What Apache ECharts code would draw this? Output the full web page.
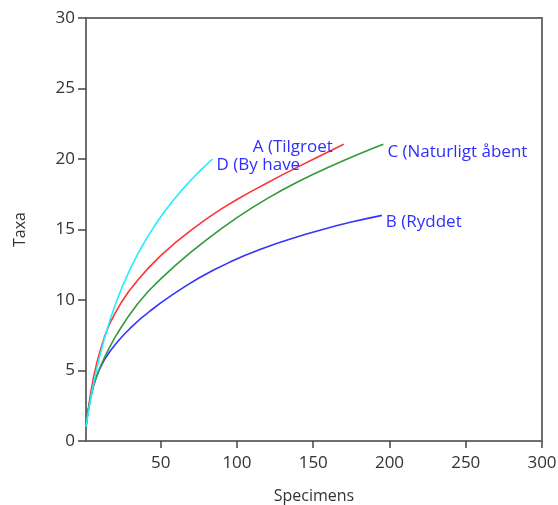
<!DOCTYPE html>
<html>
<head>
<meta charset="utf-8">
<script src="https://cdn.jsdelivr.net/npm/echarts@6/dist/echarts.min.js"></script>
<style>
  html, body { margin: 0; padding: 0; background: #fff; }
  #chart { width: 558px; height: 505px; }
</style>
</head>
<body>
<div id="chart"></div>
<script>
// Rarefaction curves: expected number of taxa vs. number of specimens
const seriesNames = ['A (Tilgroet', 'B (Ryddet', 'C (Naturligt åbent', 'D (By have'];

const xA = [1, 2, 4, 6, 8, 10, 13, 16, 20, 24, 29, 35, 42, 50, 60, 70, 80, 90, 100, 110, 120, 130, 140, 150, 160, 170];
const yA = [1.0, 1.9, 3.35, 4.55, 5.5, 6.3, 7.35, 8.2, 9.05, 9.8, 10.6, 11.42, 12.28, 13.15, 14.1, 14.95, 15.75, 16.48, 17.13, 17.74, 18.32, 18.89, 19.44, 19.98, 20.52, 21.05];

const xB = [1, 2, 4, 6, 8, 10, 13, 17, 21, 25, 30, 36, 43, 50, 58, 66, 75, 85, 95, 105, 115, 125, 135, 145, 155, 165, 175, 185, 195];
const yB = [1.0, 1.88, 3.05, 3.95, 4.6, 5.12, 5.75, 6.4, 6.95, 7.45, 8.0, 8.6, 9.22, 9.8, 10.4, 10.97, 11.56, 12.14, 12.67, 13.15, 13.58, 13.97, 14.33, 14.66, 14.97, 15.26, 15.53, 15.77, 16.0];

const xC = [1, 2, 4, 6, 8, 10, 13, 16, 20, 24, 29, 35, 42, 50, 60, 70, 80, 90, 100, 110, 120, 130, 140, 150, 160, 170, 180, 190, 196];
const yC = [1.0, 1.9, 3.1, 3.95, 4.6, 5.15, 5.9, 6.55, 7.35, 8.05, 8.87, 9.75, 10.64, 11.5, 12.49, 13.41, 14.27, 15.08, 15.84, 16.55, 17.21, 17.82, 18.39, 18.92, 19.42, 19.9, 20.36, 20.8, 21.05];

const xD = [1, 2, 4, 6, 8, 10, 13, 17, 21, 25, 30, 35, 40, 46, 52, 58, 64, 70, 76, 84];
const yD = [1.0, 1.7, 3.0, 4.1, 5.1, 6.0, 7.24, 8.67, 9.91, 11.0, 12.21, 13.28, 14.23, 15.27, 16.2, 17.04, 17.81, 18.53, 19.19, 20.0];

const xTicks = [50, 100, 150, 200, 250, 300];
const lineColors = ['#ff3434', '#3434ff', '#33993a', '#22eeff'];
const labelColor = '#2f2fff';

function pairs(xs, ys) { return xs.map((x, i) => [x, ys[i]]); }

const curves = [pairs(xA, yA), pairs(xB, yB), pairs(xC, yC), pairs(xD, yD)];
const labelOffsets = [[-95, 3], [0, 7], [0, 8], [0, 6]];

const chart = echarts.init(document.getElementById('chart'), null, { renderer: 'canvas' });
chart.setOption({
  animation: false,
  backgroundColor: '#ffffff',
  textStyle: { fontFamily: 'Open Sans' },
  grid: {
    left: 86, right: 16, top: 18, bottom: 64,
    outerBoundsMode: 'none',
    containLabel: false,
    show: true, borderColor: '#6e6e6e', borderWidth: 2, backgroundColor: 'transparent'
  },
  xAxis: {
    type: 'value', min: 1, max: 300,
    name: 'Specimens', nameLocation: 'middle', nameGap: 47,
    nameTextStyle: { fontSize: 16, color: '#333', fontFamily: 'Open Sans' },
    axisLine: { show: true, lineStyle: { color: '#6e6e6e', width: 2 } },
    axisTick: { show: true, customValues: xTicks, length: 7, lineStyle: { color: '#444', width: 1.5 } },
    axisLabel: { customValues: xTicks, margin: 14, fontSize: 17, color: '#333', fontFamily: 'Open Sans' },
    splitLine: { show: false }
  },
  yAxis: {
    type: 'value', min: 0, max: 30, interval: 5,
    name: 'Taxa', nameLocation: 'middle', nameGap: 58, nameRotate: 90,
    nameTextStyle: { fontSize: 16, color: '#333', fontFamily: 'Open Sans' },
    axisLine: { show: true, lineStyle: { color: '#6e6e6e', width: 2 } },
    axisTick: { show: true, length: 8, lineStyle: { color: '#444', width: 1.5 } },
    axisLabel: { margin: 11, fontSize: 17, color: '#333', fontFamily: 'Open Sans' },
    splitLine: { show: false }
  },
  series: curves.map((data, i) => ({
    name: seriesNames[i],
    type: 'line',
    data: data,
    showSymbol: false,
    symbol: 'none',
    smooth: false,
    lineStyle: { color: lineColors[i], width: 1.6 },
    itemStyle: { color: lineColors[i] },
    endLabel: {
      show: true,
      formatter: '{a}',
      color: labelColor,
      fontSize: 17,
      fontFamily: 'Open Sans',
      distance: 4,
      offset: labelOffsets[i]
    }
  }))
});
</script>
</body>
</html>
